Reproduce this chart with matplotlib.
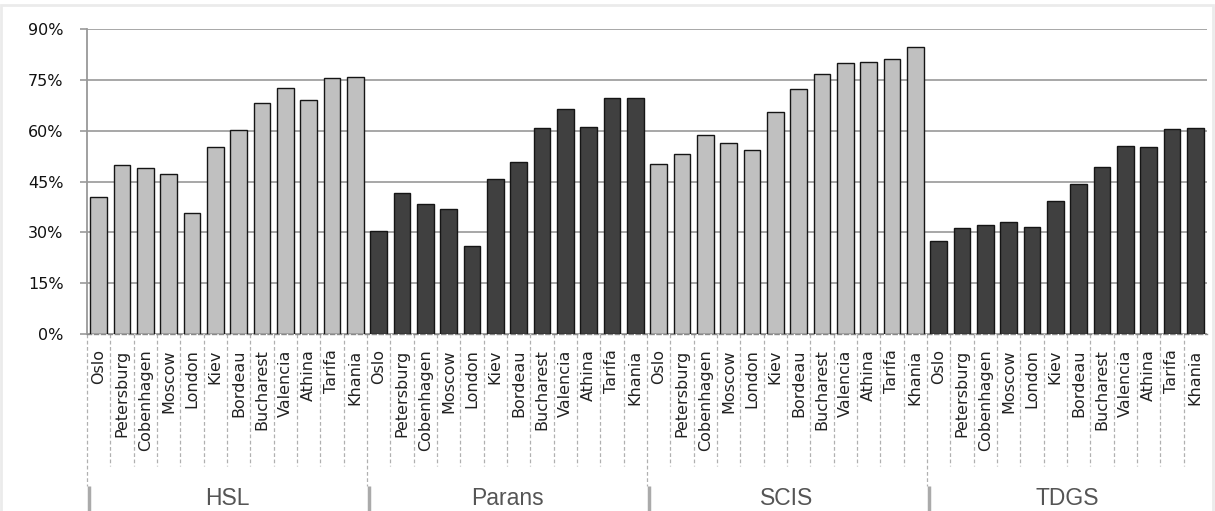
import matplotlib
matplotlib.use("Agg")
import matplotlib.pyplot as plt
import matplotlib.transforms as mtransforms
from matplotlib.patches import Rectangle
import numpy as np

cities = ["Oslo", "Petersburg", "Cobenhagen", "Moscow", "London", "Kiev",
          "Bordeau", "Bucharest", "Valencia", "Athina", "Tarifa", "Khania"]
groups = ["HSL", "Parans", "SCIS", "TDGS"]

hsl = [40.4, 50.0, 49.1, 47.2, 35.6, 55.3, 60.4, 68.3, 72.8, 69.2, 75.6, 76.0]
parans = [30.5, 41.7, 38.4, 36.8, 26.0, 45.9, 50.8, 60.9, 66.5, 61.2, 69.6, 69.6]
scis = [50.3, 53.2, 58.8, 56.4, 54.4, 65.6, 72.5, 76.9, 80.0, 80.4, 81.2, 84.8]
tdgs = [27.6, 31.2, 32.3, 33.2, 31.6, 39.2, 44.4, 49.3, 55.6, 55.3, 60.5, 60.9]

series = [hsl, parans, scis, tdgs]
group_colors = ["#c0c0c0", "#404040", "#c0c0c0", "#404040"]

yticks = [0, 15, 30, 45, 60, 75, 90]
ytick_labels = ["0%", "15%", "30%", "45%", "60%", "75%", "90%"]

W, H = 1215, 511
fig = plt.figure(figsize=(W / 100, H / 100), dpi=100)
ax = fig.add_axes([87 / W, 1 - 334 / H, (1207 - 87) / W, (334 - 29.3) / H])

n = len(cities)
values = []
colors = []
labels = []
for g, vals, c in zip(groups, series, group_colors):
    values.extend(vals)
    colors.extend([c] * n)
    labels.extend(cities)
x = np.arange(len(values))

ax.bar(x, values, width=0.72, color=colors, edgecolor="#151515", linewidth=1.0, zorder=3)

ax.set_xlim(-0.5, len(values) - 0.5)
ax.set_ylim(0, 90)
ax.set_yticks(yticks)
ax.set_yticklabels(ytick_labels, fontsize=11.5, color="#111111", family="DejaVu Sans")
ax.tick_params(axis="y", length=5, width=1.2, color="#999999", pad=12)
ax.yaxis.grid(True, color="#a0a0a0", linewidth=1.3, zorder=0)
ax.set_axisbelow(True)

ax.set_xticks(x)
ax.set_xticklabels(labels, rotation=90, fontsize=11.5, color="#222222", family="DejaVu Sans")
ax.tick_params(axis="x", length=0, pad=11)

for s in ["top", "right"]:
    ax.spines[s].set_visible(False)
ax.spines["left"].set_color("#999999")
ax.spines["left"].set_linewidth(1.3)
ax.spines["bottom"].set_color("#888888")
ax.spines["bottom"].set_linewidth(1.0)
ax.spines["bottom"].set_linestyle((0, (3, 2)))

trans = mtransforms.blended_transform_factory(ax.transData, ax.transAxes)
ph = (334 - 29.3)
inner_end = -(466 - 334) / ph
group_end = -(486 - 334) / ph
solid_end = -(515 - 334) / ph

for i in range(len(values)):
    xb = i - 0.5
    if i % n == 0:
        ax.plot([xb, xb], [0, group_end], transform=trans, color="#b0b0b0",
                linewidth=0.9, linestyle=(0, (3, 2)), clip_on=False)
        ax.plot([xb + 0.07, xb + 0.07], [group_end, solid_end], transform=trans,
                color="#aaaaaa", linewidth=2.5, clip_on=False, solid_capstyle="butt")
    else:
        ax.plot([xb, xb], [0, inner_end], transform=trans, color="#b0b0b0",
                linewidth=0.9, linestyle=(0, (3, 2)), clip_on=False)

for gi, g in enumerate(groups):
    xc = gi * n + (n - 1) / 2
    ax.text(xc, -(505 - 334) / ph, g, transform=trans, ha="center", va="baseline",
            fontsize=16.5, color="#555555", family="Liberation Sans")

fig.patches.append(Rectangle((1 / W, -0.1), (W - 3) / W, 1.1 - 5 / H,
                             transform=fig.transFigure, fill=False,
                             edgecolor="#ebebeb", linewidth=2, zorder=-1))

fig.savefig("out.png", dpi=100, facecolor="white")
